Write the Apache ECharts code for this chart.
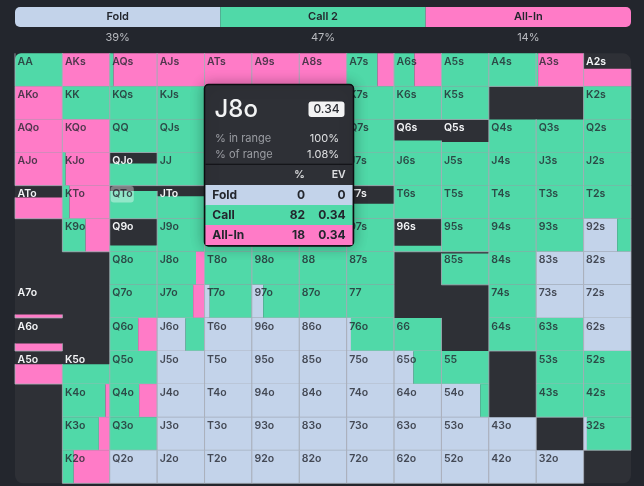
<!DOCTYPE html>
<html>
<head>
<meta charset="utf-8">
<style>
	html, body { margin: 0; padding: 0; background: #23262d; }
	#report_range { width: 644px; height: 486px; }
</style>
<script src="https://cdn.jsdelivr.net/npm/echarts@6/dist/echarts.min.js"></script>
</head>
<body>
<div id="report_range"></div>
<script>
var ranks = ['A','K','Q','J','T','9','8','7','6','5','4','3','2'];

var actionNames = ['Fold','Call 2','All-In'];
var actionShares = [39,47,14];
var actionSlots = [1,1,1];

// share of each hand in range, rows and columns follow ranks
var rangeWeight = [
	[100,100,100,100,100,100,100,100,100,100,100,100,53],
	[100,100,100,100,100,100,100,100,100,100,0,0,100],
	[100,100,100,100,100,100,100,100,36,32,100,100,100],
	[100,100,67,100,100,100,100,100,100,100,100,100,100],
	[64,100,84,68,100,100,100,45,100,100,100,100,100],
	[0,100,19,100,100,100,100,100,18,100,100,100,100],
	[0,0,100,100,100,100,100,100,0,95,100,100,100],
	[10,0,100,100,100,100,100,100,0,0,100,100,100],
	[23,0,100,100,100,100,100,100,100,0,100,100,100],
	[60,60,100,100,100,100,100,100,100,100,0,100,100],
	[0,100,100,100,100,100,100,100,100,100,0,100,100],
	[0,100,100,100,100,100,100,100,100,100,100,0,100],
	[0,100,100,100,100,100,100,100,100,100,100,100,0]
];
var foldPct = [
	[0,0,0,0,0,0,0,0,0,0,0,0,0],
	[0,0,0,0,0,0,0,0,0,0,0,0,0],
	[0,0,0,0,0,0,0,0,0,0,0,0,0],
	[0,0,0,0,0,0,0,0,0,0,0,0,0],
	[0,0,0,0,0,0,0,0,0,0,0,0,0],
	[0,0,0,0,0,0,0,0,0,0,0,0,71],
	[0,0,0,0,0,0,0,0,0,0,0,100,100],
	[0,0,0,0,11,24,0,0,0,0,0,100,100],
	[0,0,0,60,100,100,100,9,0,0,0,0,100],
	[0,0,0,100,100,100,100,100,41,0,0,0,0],
	[0,0,0,100,100,100,100,100,100,82,0,0,0],
	[0,0,0,100,100,100,100,100,100,100,100,0,7],
	[0,0,100,100,100,100,100,100,100,100,100,100,0]
];
var callPct = [
	[100,0,8,0,0,0,0,65,43,100,100,4,0],
	[0,100,100,100,100,100,100,100,100,100,0,0,100],
	[0,0,100,100,100,100,100,100,100,100,100,100,100],
	[0,7,100,100,100,100,100,100,100,100,100,100,100],
	[0,15,100,100,100,100,100,100,100,100,100,100,100],
	[0,49,100,100,100,100,100,100,100,100,100,100,29],
	[0,0,100,82,100,100,100,100,0,100,100,0,0],
	[0,0,100,76,89,76,100,100,0,0,100,0,0],
	[0,0,60,40,0,0,0,91,100,0,100,100,0],
	[0,100,100,0,0,0,0,0,59,100,0,100,100],
	[0,91,62,0,0,0,0,0,0,18,0,100,100],
	[0,77,100,0,0,0,0,0,0,0,0,0,93],
	[0,24,0,0,0,0,0,0,0,0,0,0,0]
];
var allInPct = [
	[0,100,92,100,100,100,100,35,57,0,0,96,100],
	[100,0,0,0,0,0,0,0,0,0,0,0,0],
	[100,100,0,0,0,0,0,0,0,0,0,0,0],
	[100,93,0,0,0,0,0,0,0,0,0,0,0],
	[100,85,0,0,0,0,0,0,0,0,0,0,0],
	[0,51,0,0,0,0,0,0,0,0,0,0,0],
	[0,0,0,18,0,0,0,0,0,0,0,0,0],
	[100,0,0,24,0,0,0,0,0,0,0,0,0],
	[100,0,40,0,0,0,0,0,0,0,0,0,0],
	[100,0,0,0,0,0,0,0,0,0,0,0,0],
	[0,9,38,0,0,0,0,0,0,0,0,0,0],
	[0,23,0,0,0,0,0,0,0,0,0,0,0],
	[0,76,0,0,0,0,0,0,0,0,0,0,0]
];

var markedHand = 'QTo';

var tipHand = 'J8o';
var tipEv = '0.34';
var tipStatNames = ['% in range','% of range'];
var tipStatValues = ['100%','1.08%'];
var tipRows = ['Fold','Call','All-In'];
var tipRowPct = ['0','82','18'];
var tipRowEv = ['0','0.34','0.34'];

var FONT = 'Inter, "Noto Sans", sans-serif';
var COLOR_FOLD = '#c3d3ea';
var COLOR_CALL = '#50d9a8';
var COLOR_ALLIN = '#ff7bc7';
var COLOR_PANEL = '#2e3036';
var COLOR_LINE = 'rgba(170,175,185,0.8)';
var segColors = [COLOR_FOLD, COLOR_CALL, COLOR_ALLIN];

function handName(r, c) {
	if (r == c) return ranks[r] + ranks[c];
	if (r < c) return ranks[r] + ranks[c] + 's';
	return ranks[c] + ranks[r] + 'o';
}

function renderPanel(params) {
	var g = params.coordSys;
	return {
		type : 'rect',
		shape : { x : g.x, y : g.y, width : g.width, height : g.height, r : 8 },
		style : { fill : COLOR_PANEL }
	};
}

function renderHand(params, api) {
	var c = api.value(0), r = api.value(1), weight = api.value(2);
	if (!weight) return null;
	var center = api.coord([c, r]);
	var size = api.size([1, 1]);
	var x0 = center[0] - size[0] / 2, y0 = center[1] - size[1] / 2;
	var h = size[1] * weight / 100;
	var top = y0 + size[1] - h;
	var children = [];
	var x = x0;
	for (var i = 0; i < 3; i++) {
		var w = size[0] * api.value(3 + i) / 100;
		if (w > 0) {
			children.push({
				type : 'rect',
				shape : { x : x, y : top, width : w, height : h, r : (r == 0 && c == 0) ? [6,0,0,0] : 0 },
				style : { fill : segColors[i] }
			});
		}
		x += w;
	}
	children.push({
		type : 'polyline',
		shape : { points : [[x0, top], [x0, y0 + size[1]], [x0 + size[0], y0 + size[1]], [x0 + size[0], top]] },
		style : { stroke : COLOR_LINE, lineWidth : 1, fill : null }
	});
	var name = handName(r, c);
	if (name == markedHand) {
		children.push({
			type : 'rect',
			shape : { x : x0 + 1, y : y0 + 0.5, width : 23, height : 16.5, r : 3 },
			style : { fill : 'rgba(255,255,255,0.38)' }
		});
	}
	children.push({
		type : 'text',
		style : {
			text : name,
			x : x0 + 2.5,
			y : y0 + 8.5,
			verticalAlign : 'middle',
			font : '600 10.5px ' + FONT,
			fill : weight < 80 ? '#f4f5f7' : 'rgba(35,38,46,0.8)'
		}
	});
	return { type : 'group', children : children };
}

function tipText(text, x, y, fill, font, align) {
	return {
		type : 'text',
		z : 101,
		style : { text : text, x : x, y : y, fill : fill, font : font + ' ' + FONT, align : align || 'left', verticalAlign : 'middle' }
	};
}

function tipRect(x, y, w, h, style, r) {
	return { type : 'rect', z : 100, shape : { x : x, y : y, width : w, height : h, r : r || 0 }, style : style };
}

function buildTip() {
	var els = [];
	els.push(tipRect(204.5, 84.5, 149, 161.5, {
		fill : COLOR_PANEL, stroke : '#0c0d10', lineWidth : 1.5,
		shadowBlur : 14, shadowColor : 'rgba(0,0,0,0.3)'
	}, 4));
	els.push(tipText(tipHand, 214.5, 109.5, '#f2f3f4', '500 24px'));
	els.push(tipRect(308.5, 101.5, 36, 15.5, { fill : '#f3f3f4' }, 3));
	els.push(tipText(tipEv, 326.5, 109.8, '#2b2d33', '500 12px', 'center'));
	for (var i = 0; i < 2; i++) {
		els.push(tipText(tipStatNames[i], 215, 138.5 + i * 16, '#9b9da3', '400 11px'));
		els.push(tipText(tipStatValues[i], 339, 138.5 + i * 16, '#dfe0e2', '400 11px', 'right'));
	}
	els.push(tipRect(205.5, 163.8, 147, 1, { fill : '#0c0d10' }));
	els.push(tipText('%', 304.7, 175, '#dfe0e2', '600 10.5px', 'right'));
	els.push(tipText('EV', 345.7, 175, '#dfe0e2', '600 10.5px', 'right'));
	for (var j = 0; j < 3; j++) {
		var y = 185 + j * 20;
		els.push(tipRect(205.5, y, 147, j == 2 ? 20 : 20.3, { fill : segColors[j] }));
		els.push(tipText(tipRows[j], 212.3, y + 10.3, '#23262d', '700 12px'));
		els.push(tipText(tipRowPct[j], 305, y + 10.3, '#23262d', '700 12px', 'right'));
		els.push(tipText(tipRowEv[j], 345.7, y + 10.3, '#23262d', '700 12px', 'right'));
	}
	return els;
}

var handCells = [];
for (var r = 0; r < ranks.length; r++) {
	for (var c = 0; c < ranks.length; c++) {
		handCells.push([c, r, rangeWeight[r][c], foldPct[r][c], callPct[r][c], allInPct[r][c]]);
	}
}

var lastSlot = actionSlots.length - 1;
var actionBars = actionSlots.map(function(v, i) {
	return {
		value : v,
		label : { formatter : actionNames[i] },
		itemStyle : {
			color : segColors[i],
			borderRadius : i == 0 ? [5,0,0,5] : (i == lastSlot ? [0,5,5,0] : 0)
		}
	};
});

var option = {
	backgroundColor : '#23262d',
	animation : false,
	textStyle : { fontFamily : FONT },
	grid : [
		{ left : 15, top : 7, width : 616, height : 20 },
		{ left : 15, top : 53.3, width : 616, height : 430 }
	],
	xAxis : [
		{
			type : 'category',
			gridIndex : 0,
			data : actionShares.map(function(v) { return v + '%'; }),
			axisLine : { show : false },
			axisTick : { show : false },
			axisLabel : { color : '#b9bbc0', fontSize : 11, margin : 5, fontFamily : FONT }
		},
		{ type : 'category', gridIndex : 1, data : ranks, show : false }
	],
	yAxis : [
		{ type : 'value', gridIndex : 0, min : 0, max : 1, show : false },
		{ type : 'category', gridIndex : 1, data : ranks, inverse : true, show : false }
	],
	series : [
		{
			type : 'bar',
			xAxisIndex : 0,
			yAxisIndex : 0,
			barWidth : '100%',
			silent : true,
			label : {
				show : true,
				position : 'inside',
				color : '#23262d',
				fontSize : 11,
				fontWeight : 600,
				fontFamily : FONT
			},
			data : actionBars
		},
		{
			type : 'custom',
			xAxisIndex : 1,
			yAxisIndex : 1,
			silent : true,
			clip : false,
			z : 1,
			renderItem : renderPanel,
			data : [[0, 0]]
		},
		{
			type : 'custom',
			xAxisIndex : 1,
			yAxisIndex : 1,
			silent : true,
			clip : false,
			z : 2,
			encode : { x : 0, y : 1 },
			renderItem : renderHand,
			data : handCells
		}
	],
	graphic : { elements : buildTip() }
};

var myChart = echarts.init(document.getElementById('report_range'));
myChart.setOption(option, true);
</script>
</body>
</html>
